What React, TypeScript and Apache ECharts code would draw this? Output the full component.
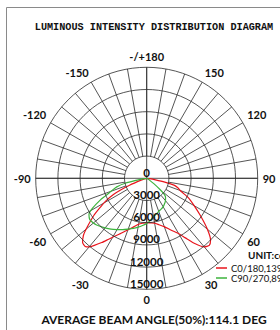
import React, { useEffect, useRef } from "react";
import * as echarts from "echarts";

const TITLE = "LUMINOUS INTENSITY DISTRIBUTION DIAGRAM";
const FOOTER = "AVERAGE BEAM ANGLE(50%):114.1 DEG";
const UNIT = "UNIT:cd";
const SERIES_NAMES = ["C0/180,139.0°", "C90/270,89.2°"];
const RADIUS_TICKS = [0, 3000, 6000, 9000, 12000, 15000];

const redAngles = [-90, -80, -72, -68, -66, -64, -61, -58, -55, -50, -48, -45, -42, -40, -38, -35, -32, -30, -25, -20, -15, -10, -5, 0, 5, 10, 15, 20, 25, 30, 33, 36, 40, 43, 46, 50, 55, 60, 65, 69, 73, 76, 78, 80, 83, 90];
const redValues = [0, 200, 800, 2500, 3800, 5000, 6300, 7400, 8700, 10700, 11500, 12250, 12400, 12100, 11500, 10600, 9700, 9200, 8200, 7400, 6800, 6300, 6100, 6000, 6050, 6150, 6500, 6950, 7700, 8600, 9600, 10800, 12100, 12400, 12000, 10700, 8900, 7400, 6200, 5000, 4400, 3800, 2500, 1200, 400, 0];

const greenAngles = [-90, -82, -79, -77, -74, -71, -67, -65, -61, -58, -54, -50, -47, -40, -35, -30, -25, -20, -15, -10, -5, 0, 5, 10, 15, 20, 25, 30, 35, 40, 45, 48, 50, 53, 56, 60, 70, 90];
const greenValues = [0, 300, 1500, 3000, 4200, 4900, 6000, 6900, 8400, 9200, 9500, 9400, 9250, 8750, 8400, 8000, 7650, 7300, 7000, 6700, 6400, 6100, 5700, 5250, 5000, 4750, 4600, 4450, 4200, 3950, 3600, 3100, 2300, 1200, 500, 150, 0, 0];

const toPolar = (angles: number[], values: number[]) =>
  angles.map((a, i) => [values[i], (a + 360) % 360]);

export default function App() {
  const ref = useRef<HTMLDivElement>(null);
  useEffect(() => {
    if (!ref.current) return;
    const chart = echarts.init(ref.current, undefined, { renderer: "svg" });
    const center = [146.7, 178.3];
    const R = 111;
    const gridColor = "#2a2a2a";
    const font = "Lato";
    chart.setOption({
      animation: false,
      backgroundColor: "#fff",
      polar: [
        { center, radius: [R / 5, R] },
        { center, radius: [0, R] },
      ],
      angleAxis: [
        {
          polarIndex: 0,
          type: "value",
          min: 0,
          max: 360,
          interval: 10,
          startAngle: -90,
          clockwise: false,
          axisLine: { show: false },
          axisTick: { show: false },
          splitLine: { show: true, lineStyle: { color: gridColor, width: 0.8 } },
          axisLabel: {
            show: true,
            margin: 5,
            fontFamily: font,
            fontWeight: "bold",
            fontSize: 11,
            color: "#111",
            formatter: (v: number) => {
              if (v % 30 !== 0 || v === 360) return "";
              if (v === 180) return "-/+180";
              if (v > 180) return String(v - 360);
              return String(v);
            },
          },
        },
        {
          polarIndex: 1,
          type: "value",
          min: 0,
          max: 360,
          interval: 90,
          startAngle: -90,
          clockwise: false,
          axisLine: { show: false },
          axisTick: { show: false },
          axisLabel: { show: false },
          splitLine: { show: true, lineStyle: { color: gridColor, width: 0.8 } },
        },
      ],
      radiusAxis: [
        { polarIndex: 0, type: "value", min: 0, max: 15000, show: false },
        {
          polarIndex: 1,
          type: "value",
          min: RADIUS_TICKS[0],
          max: RADIUS_TICKS[RADIUS_TICKS.length - 1],
          interval: 3000,
          axisLine: { show: false },
          axisTick: { show: false },
          splitLine: { show: true, lineStyle: { color: gridColor, width: 0.8 } },
          axisLabel: {
            show: true,
            margin: 0,
            align: "center",
            verticalAlign: "bottom",
            fontFamily: font,
            fontWeight: "bold",
            fontSize: 11.5,
            color: "#111",
            formatter: (v: number) => String(v),
          },
          z: 5,
        },
      ],
      legend: {
        orient: "vertical",
        left: 216,
        top: 263,
        icon: "rect",
        itemWidth: 11,
        itemHeight: 1.5,
        itemGap: 0,
        padding: 0,
        textStyle: { fontFamily: font, fontSize: 9.5, color: "#111", padding: [0, 0, 0, -1] },
        data: SERIES_NAMES,
      },
      series: [
        {
          name: SERIES_NAMES[0],
          type: "line",
          coordinateSystem: "polar",
          polarIndex: 1,
          showSymbol: false,
          smooth: 0.2,
          lineStyle: { color: "#e8141c", width: 1.2 },
          itemStyle: { color: "#e8141c" },
          data: toPolar(redAngles, redValues),
        },
        {
          name: SERIES_NAMES[1],
          type: "line",
          coordinateSystem: "polar",
          polarIndex: 1,
          showSymbol: false,
          smooth: 0.2,
          lineStyle: { color: "#3db33d", width: 1.2 },
          itemStyle: { color: "#3db33d" },
          data: toPolar(greenAngles, greenValues),
        },
      ],
      graphic: [
        {
          type: "rect",
          shape: { x: 6.5, y: 7.5, width: 400, height: 400 },
          style: { fill: "none", stroke: "#8a8a8a", lineWidth: 1 },
          silent: true,
        },
        {
          type: "text",
          x: 154,
          y: 27,
          style: {
            text: TITLE,
            fontFamily: "Liberation Mono",
            fontWeight: "bold",
            fontSize: 10.2,
            fill: "#111",
            align: "center",
            verticalAlign: "middle",
          },
        },
        {
          type: "text",
          x: 248,
          y: 255,
          style: {
            text: UNIT,
            fontFamily: font,
            fontWeight: "bold",
            fontSize: 10,
            fill: "#111",
            align: "left",
            verticalAlign: "middle",
          },
        },
        {
          type: "text",
          x: 154,
          y: 319,
          style: {
            text: FOOTER,
            fontFamily: font,
            fontWeight: "bold",
            fontSize: 12,
            fill: "#111",
            align: "center",
            verticalAlign: "middle",
          },
        },
      ],
    });
    return () => chart.dispose();
  }, []);
  return (
    <div
      ref={ref}
      style={{ position: "absolute", left: 0, top: 0, width: 280, height: 330 }}
    />
  );
}
